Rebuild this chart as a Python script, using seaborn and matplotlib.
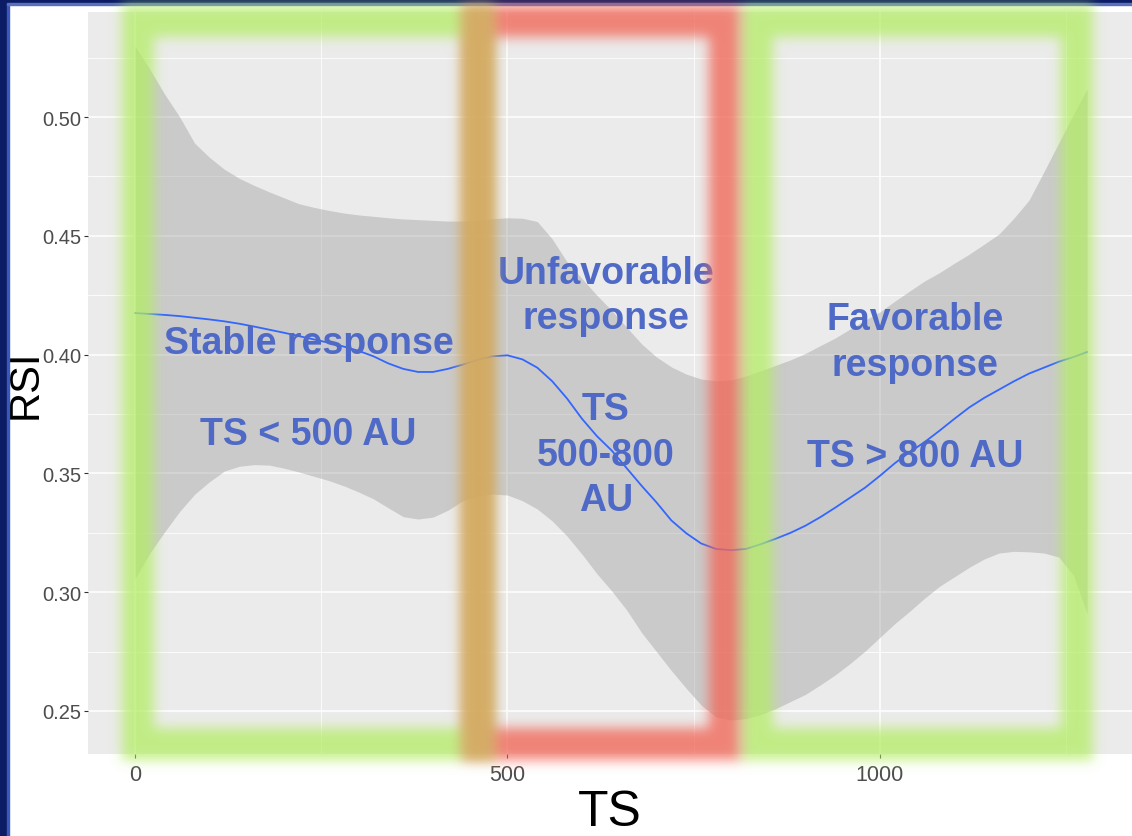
import numpy as np
import pandas as pd
import matplotlib
matplotlib.use("Agg")
import matplotlib.pyplot as plt
import seaborn as sns
from matplotlib.patches import Rectangle
from matplotlib.ticker import MultipleLocator

# ---- loess fit of RSI against TS, with its confidence band ----
ts = [0, 20, 40, 60, 80, 100, 120, 140, 160, 180, 200, 220, 240, 260, 280,
      300, 320, 340, 360, 380, 400, 420, 440, 460, 480, 500, 520, 540, 560,
      580, 600, 620, 640, 660, 680, 700, 720, 740, 760, 780, 800, 820, 840,
      860, 880, 900, 920, 940, 960, 980, 1000, 1020, 1040, 1060, 1080, 1100,
      1120, 1140, 1160, 1180, 1200, 1220, 1240, 1260, 1278]
rsi_fit = [0.4175, 0.4171, 0.4167, 0.4162, 0.4155, 0.4148, 0.4140, 0.4130,
           0.4118, 0.4105, 0.4092, 0.4078, 0.4064, 0.4050, 0.4034, 0.4016,
           0.3993, 0.3963, 0.3940, 0.3927, 0.3927, 0.3940, 0.3958, 0.3978,
           0.3993, 0.3997, 0.3980, 0.3945, 0.3888, 0.3815, 0.3730, 0.3657,
           0.3596, 0.3522, 0.3448, 0.3378, 0.3302, 0.3248, 0.3205, 0.3182,
           0.3177, 0.3182, 0.3202, 0.3225, 0.3250, 0.3280, 0.3316, 0.3356,
           0.3398, 0.3440, 0.3490, 0.3543, 0.3590, 0.3632, 0.3680, 0.3730,
           0.3778, 0.3818, 0.3853, 0.3888, 0.3920, 0.3945, 0.3970, 0.3990,
           0.4011]
rsi_lower = [0.3056, 0.3165, 0.3255, 0.3340, 0.3412, 0.3465, 0.3510, 0.3530,
             0.3537, 0.3535, 0.3522, 0.3506, 0.3488, 0.3470, 0.3448, 0.3422,
             0.3393, 0.3355, 0.3318, 0.3308, 0.3316, 0.3345, 0.3385, 0.3405,
             0.3413, 0.3409, 0.3385, 0.3350, 0.3300, 0.3236, 0.3160, 0.3078,
             0.3005, 0.2925, 0.2830, 0.2750, 0.2670, 0.2595, 0.2525, 0.2475,
             0.2462, 0.2468, 0.2485, 0.2510, 0.2540, 0.2570, 0.2610, 0.2652,
             0.2700, 0.2752, 0.2810, 0.2868, 0.2920, 0.2975, 0.3025, 0.3065,
             0.3105, 0.3140, 0.3165, 0.3172, 0.3170, 0.3165, 0.3148, 0.3070,
             0.2908]
rsi_upper = [0.5299, 0.5200, 0.5095, 0.5000, 0.4890, 0.4830, 0.4780, 0.4742,
             0.4712, 0.4685, 0.4660, 0.4635, 0.4620, 0.4607, 0.4596, 0.4588,
             0.4582, 0.4576, 0.4571, 0.4568, 0.4565, 0.4562, 0.4562, 0.4565,
             0.4572, 0.4576, 0.4574, 0.4560, 0.4487, 0.4390, 0.4320, 0.4250,
             0.4185, 0.4115, 0.4045, 0.3990, 0.3948, 0.3918, 0.3897, 0.3890,
             0.3893, 0.3910, 0.3932, 0.3955, 0.3978, 0.4005, 0.4038, 0.4070,
             0.4108, 0.4145, 0.4180, 0.4225, 0.4268, 0.4310, 0.4345, 0.4385,
             0.4423, 0.4465, 0.4508, 0.4575, 0.4650, 0.4769, 0.4891, 0.5013,
             0.5118]

x_ticks = [0, 500, 1000]
x_tick_labels = ["0", "500", "1000"]
y_ticks = [0.25, 0.30, 0.35, 0.40, 0.45, 0.50]
y_tick_labels = ["0.25", "0.30", "0.35", "0.40", "0.45", "0.50"]

# ---- response zones ----
zone_labels = ["Stable response\n\nTS < 500 AU",
               "Unfavorable\nresponse\n\nTS\n500-800\nAU",
               "Favorable\nresponse\n\nTS > 800 AU"]
zone_label_ts = [233, 632, 1047]
zone_label_rsi = [0.3624, 0.3345, 0.3531]   # baseline of the last line

# highlight frames round each zone (TS edges) and their colours
frame_ts = [(4, 460), (460, 792), (835, 1264)]
frame_kind = ["good", "bad", "good"]
frame_rsi = (0.2361, 0.5404)

W, H = 1132, 837
sns.set_theme(style="darkgrid")
plt.rcParams["font.family"] = ["Liberation Sans", "DejaVu Sans"]

fig = plt.figure(figsize=(W / 100, H / 100), dpi=100, facecolor="white")
ax = fig.add_axes([88 / W, 1 - 755 / H, (W - 88) / W, 742 / H])
ax.set_facecolor("#EBEBEB")

df = pd.DataFrame({"TS": ts, "fit": rsi_fit, "lo": rsi_lower, "hi": rsi_upper})
ax.fill_between(df["TS"], df["lo"], df["hi"], color="#999999", alpha=0.4,
                lw=0, zorder=2)
sns.lineplot(data=df, x="TS", y="fit", ax=ax, color="#3366FF", lw=1.3,
             zorder=3)

ax.set_xlim(-63.1, 1338.3)
ax.set_ylim(0.2319, 0.5442)
ax.set_xticks(x_ticks, labels=x_tick_labels)
ax.set_yticks(y_ticks, labels=y_tick_labels)
ax.xaxis.set_minor_locator(MultipleLocator(250))
ax.yaxis.set_minor_locator(MultipleLocator(0.025))
ax.set_axisbelow(True)
ax.grid(which="major", color="white", lw=1.1)
ax.grid(which="minor", color="white", lw=0.6)
for s in ax.spines.values():
    s.set_visible(False)
ax.tick_params(which="major", length=3, width=0.8, color="#333333",
               labelcolor="#4D4D4D", labelsize=14.5, pad=2,
               bottom=True, left=True)
ax.tick_params(axis="x", which="major", pad=4, labelsize=15.5)
ax.tick_params(which="minor", length=0)

ax.set_xlabel("TS", fontsize=36, color="black", labelpad=3)
ax.set_ylabel("RSI", fontsize=30, color="black")
ax.yaxis.set_label_coords(-0.0405, 0.5)

for txt, x, y in zip(zone_labels, zone_label_ts, zone_label_rsi):
    ax.text(x, y, txt, ha="center", va="baseline", multialignment="center",
            fontsize=27, fontweight="bold", color="#4F69C6",
            linespacing=1.34, zorder=5)

# slide frame along the left and top edges
fig.patches.extend([
    Rectangle((0, 0), 7 / W, 1, transform=fig.transFigure,
              color="#0B1C64", zorder=5),
    Rectangle((7 / W, 0), 1.5 / W, 1, transform=fig.transFigure,
              color="#3A58B8", zorder=5),
    Rectangle((0, 1 - 4 / H), 1, 4 / H, transform=fig.transFigure,
              color="#0B1C64", zorder=5),
    Rectangle((7 / W, 1 - 5.5 / H), 1, 1.5 / H, transform=fig.transFigure,
              color="#5A70B8", zorder=5),
])

# ---- glowing highlight frames ----
yy, xx = np.mgrid[0:H, 0:W] + 0.5


def frame_mask(t0, t1, half=16):
    x0, y1 = ax.transData.transform((t0, frame_rsi[0]))
    x1, y0 = ax.transData.transform((t1, frame_rsi[1]))
    y0, y1 = H - y0, H - y1
    outer = (xx >= x0 - half) & (xx <= x1 + half) & (yy >= y0 - half) & (yy <= y1 + half)
    inner = (xx > x0 + half) & (xx < x1 - half) & (yy > y0 + half) & (yy < y1 - half)
    return (outer & ~inner).astype(float)


def blur(a, sigma):
    r = int(3 * sigma)
    k = np.exp(-0.5 * (np.arange(-r, r + 1) / sigma) ** 2)
    k /= k.sum()
    p = np.pad(a, ((0, 0), (r, r)))
    a = sum(k[i] * p[:, i:i + a.shape[1]] for i in range(2 * r + 1))
    p = np.pad(a, ((r, r), (0, 0)))
    a = sum(k[i] * p[i:i + a.shape[0], :] for i in range(2 * r + 1))
    return a


good = np.zeros((H, W))
bad = np.zeros((H, W))
for (t0, t1), kind in zip(frame_ts, frame_kind):
    m = frame_mask(t0, t1)
    if kind == "good":
        good = np.maximum(good, m)
    else:
        bad = np.maximum(bad, m)
ag = 0.75 * np.clip(blur(good, 6), 0, 1)
ar = 0.80 * np.clip(blur(bad, 6), 0, 1)
G = np.array([180, 238, 100]) / 255
R = np.array([242, 105, 90]) / 255
alpha = 1 - (1 - ag) * (1 - ar)
wsum = ag + ar + 1e-9
rgb = (ag[..., None] * G + ar[..., None] * R) / wsum[..., None]
rgba = np.dstack([rgb, alpha])

ov = fig.add_axes([0, 0, 1, 1], zorder=10)
ov.imshow(rgba, extent=(0, W, 0, H), origin="upper", interpolation="nearest",
          aspect="auto")
ov.set_xlim(0, W)
ov.set_ylim(0, H)
ov.axis("off")

fig.savefig("out.png", dpi=100, facecolor="white")
